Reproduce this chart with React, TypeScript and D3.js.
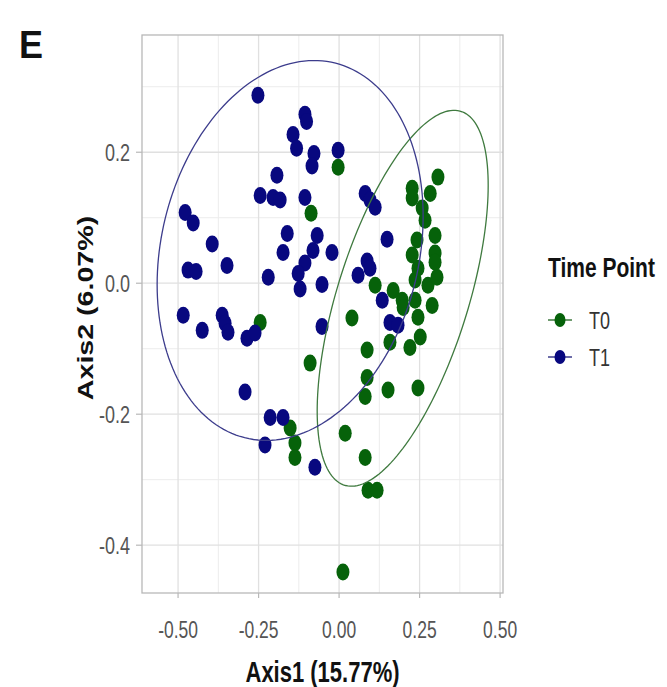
import React from "react";
import * as d3 from "d3";

const WIDTH = 667;
const HEIGHT = 687;
const STRETCH = 1.35;
const FONT = "'Liberation Sans', Arial, sans-serif";

// group names and colours
const groups = ["T0", "T1"];
const groupColors = ["#06620a", "#08087f"];
const ellipseColors = ["#3f7a3f", "#3c3c8c"];

// T0 samples (Axis1, Axis2)
const t0x = [-0.003, -0.087, -0.245, -0.09, -0.152, -0.137, -0.137, 0.019, 0.081, 0.09, 0.118, 0.012, 0.04, 0.087, 0.087, 0.081, 0.152, 0.245, 0.112, 0.168, 0.196, 0.199, 0.158, 0.22, 0.252, 0.245, 0.236, 0.289, 0.276, 0.304, 0.236, 0.245, 0.227, 0.242, 0.298, 0.298, 0.258, 0.267, 0.227, 0.227, 0.283, 0.307, 0.298];
const t0y = [0.177, 0.107, -0.06, -0.122, -0.221, -0.244, -0.266, -0.229, -0.266, -0.316, -0.316, -0.441, -0.053, -0.102, -0.144, -0.173, -0.163, -0.16, -0.003, -0.011, -0.026, -0.037, -0.09, -0.098, -0.082, -0.052, -0.026, -0.034, -0.003, 0.009, 0.005, 0.023, 0.043, 0.066, 0.073, 0.046, 0.115, 0.096, 0.145, 0.13, 0.137, 0.162, 0.032];

// T1 samples (Axis1, Axis2)
const t1x = [-0.252, -0.106, -0.101, -0.143, -0.132, -0.078, -0.084, -0.003, -0.193, -0.245, -0.205, -0.183, -0.106, -0.478, -0.453, -0.394, -0.469, -0.444, -0.348, -0.22, -0.161, -0.174, -0.068, -0.081, -0.022, -0.106, -0.127, -0.121, -0.053, 0.081, 0.096, 0.112, 0.149, 0.087, 0.096, 0.059, 0.134, 0.158, 0.183, -0.053, -0.484, -0.425, -0.363, -0.354, -0.345, -0.286, -0.261, -0.292, -0.214, -0.174, -0.23, -0.075];
const t1y = [0.287, 0.258, 0.247, 0.227, 0.206, 0.198, 0.179, 0.203, 0.165, 0.134, 0.131, 0.127, 0.131, 0.108, 0.092, 0.06, 0.02, 0.018, 0.027, 0.009, 0.076, 0.047, 0.073, 0.05, 0.047, 0.031, 0.015, -0.009, -0.002, 0.137, 0.127, 0.116, 0.067, 0.034, 0.023, 0.012, -0.026, -0.06, -0.064, -0.066, -0.049, -0.072, -0.049, -0.061, -0.075, -0.084, -0.076, -0.166, -0.205, -0.205, -0.247, -0.281];

// 95% ellipses: centre, half extents, phase shift
const ellipseCx = [0.1975, -0.152];
const ellipseCy = [-0.023, 0.05];
const ellipseHx = [0.2655, 0.413];
const ellipseHy = [0.287, 0.29];
const ellipseDelta = [0.927, 1.39];

const xTicks = [-0.5, -0.25, 0, 0.25, 0.5];
const xMinor = [-0.375, -0.125, 0.125, 0.375];
const yTicks = [-0.4, -0.2, 0, 0.2];
const yMinor = [-0.3, -0.1, 0.1, 0.3];

const panel = { left: 142, right: 503, top: 35, bottom: 593 };

// plain hyphen for negatives, like R prints them
const fmtX = (v: number) => d3.format(".2f")(v).replace("\u2212", "-");
const fmtY = (v: number) => d3.format(".1f")(v).replace("\u2212", "-");

export default function App() {
  const x = d3.scaleLinear().domain([-0.612, 0.509]).range([panel.left, panel.right]);
  const y = d3.scaleLinear().domain([-0.473, 0.379]).range([panel.bottom, panel.top]);

  const series = [
    t0x.map((v, i) => [v, t0y[i]]),
    t1x.map((v, i) => [v, t1y[i]])
  ];

  const line = d3
    .line<number[]>()
    .x((d) => x(d[0]))
    .y((d) => y(d[1]))
    .curve(d3.curveLinearClosed);

  const ellipses = groups.map((g, gi) => {
    const pts = d3.range(0, 180).map((k) => {
      const t = (k / 180) * Math.PI * 2;
      return [
        ellipseCx[gi] + ellipseHx[gi] * Math.cos(t),
        ellipseCy[gi] + ellipseHy[gi] * Math.cos(t - ellipseDelta[gi])
      ];
    });
    return line(pts);
  });

  return (
    <svg
      width={WIDTH}
      height={HEIGHT}
      style={{ position: "absolute", left: 0, top: 0, background: "#fff" }}
      fontFamily={FONT}
    >
      <text transform={`translate(19,58) scale(1,1.1)`} fontSize={36} fontWeight="bold" fill="#111">
        E
      </text>

      {/* grid */}
      <g>
        {xMinor.map((v) => (
          <line key={"xm" + v} x1={x(v)} x2={x(v)} y1={panel.top} y2={panel.bottom} stroke="#ececec" strokeWidth={1} />
        ))}
        {yMinor.map((v) => (
          <line key={"ym" + v} x1={panel.left} x2={panel.right} y1={y(v)} y2={y(v)} stroke="#ececec" strokeWidth={1} />
        ))}
        {xTicks.map((v) => (
          <line key={"xM" + v} x1={x(v)} x2={x(v)} y1={panel.top} y2={panel.bottom} stroke="#e0e0e0" strokeWidth={1.3} />
        ))}
        {yTicks.map((v) => (
          <line key={"yM" + v} x1={panel.left} x2={panel.right} y1={y(v)} y2={y(v)} stroke="#e0e0e0" strokeWidth={1.3} />
        ))}
      </g>

      {/* points */}
      {series.map((pts, gi) => (
        <g key={groups[gi]} fill={groupColors[gi]}>
          {pts.map((d, i) => (
            <ellipse key={i} cx={x(d[0])} cy={y(d[1])} rx={6.5} ry={8.5} />
          ))}
        </g>
      ))}

      {/* ellipses */}
      {ellipses.map((d, gi) => (
        <path key={"el" + gi} d={d || ""} fill="none" stroke={ellipseColors[gi]} strokeWidth={1.3} />
      ))}

      <rect
        x={panel.left}
        y={panel.top}
        width={panel.right - panel.left}
        height={panel.bottom - panel.top}
        fill="none"
        stroke="#b8b8b8"
        strokeWidth={1.3}
      />

      {/* x axis */}
      {xTicks.map((v) => (
        <g key={"xt" + v}>
          <line x1={x(v)} x2={x(v)} y1={panel.bottom} y2={panel.bottom + 5} stroke="#b8b8b8" strokeWidth={1.2} />
          <text
            transform={`translate(${x(v)},638) scale(1,${STRETCH})`}
            textAnchor="middle"
            fontSize={17.5}
            fill="#555"
          >
            {fmtX(v)}
          </text>
        </g>
      ))}
      <text
        transform={`translate(${(panel.left + panel.right) / 2},682) scale(1,1.3)`}
        textAnchor="middle"
        fontSize={22}
        fontWeight="bold"
        fill="#111"
      >
        Axis1 (15.77%)
      </text>

      {/* y axis */}
      {yTicks.map((v) => (
        <g key={"yt" + v}>
          <line x1={panel.left - 6} x2={panel.left} y1={y(v)} y2={y(v)} stroke="#b8b8b8" strokeWidth={1.2} />
          <text
            transform={`translate(130,${y(v) + 8.5}) scale(1,${STRETCH})`}
            textAnchor="end"
            fontSize={18}
            fill="#555"
          >
            {fmtY(v)}
          </text>
        </g>
      ))}
      <text
        transform={`translate(93,${(panel.top + panel.bottom) / 2 - 6}) scale(1,1.3) rotate(-90)`}
        textAnchor="middle"
        fontSize={22}
        fontWeight="bold"
        fill="#111"
      >
        Axis2 (6.07%)
      </text>

      {/* legend */}
      <text transform={`translate(548,277) scale(1,1.3)`} fontSize={21} fontWeight="bold" fill="#111">
        Time Point
      </text>
      {groups.map((g, gi) => {
        const cy = 320 + gi * 37;
        return (
          <g key={"lg" + g}>
            <line x1={548} x2={572} y1={cy} y2={cy} stroke={ellipseColors[gi]} strokeWidth={1.5} />
            <ellipse cx={560} cy={cy} rx={5.5} ry={7} fill={groupColors[gi]} />
            <text transform={`translate(589,${cy + 8.5}) scale(1,${STRETCH})`} fontSize={18} fill="#333">
              {g}
            </text>
          </g>
        );
      })}
    </svg>
  );
}
